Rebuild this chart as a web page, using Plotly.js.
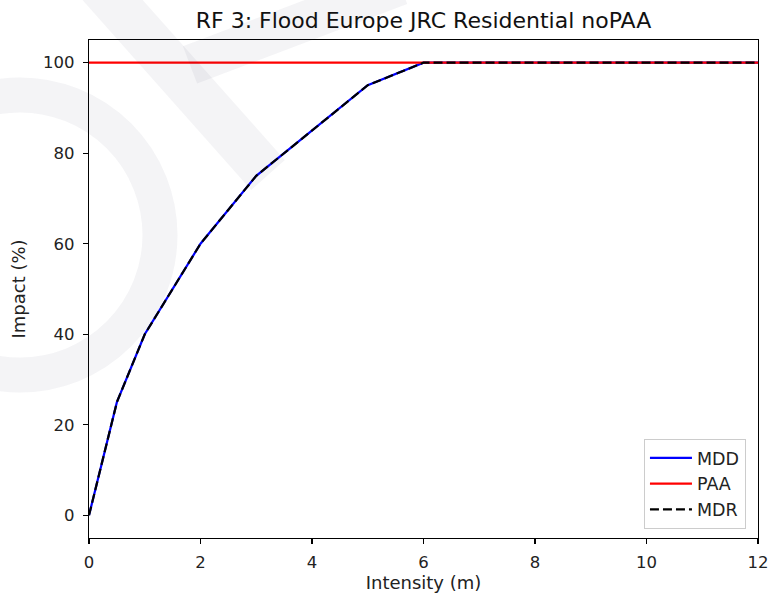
<!DOCTYPE html>
<html>
<head>
<meta charset="utf-8">
<script src="https://cdn.plot.ly/plotly-3.0.1.min.js"></script>
<style>html,body{margin:0;padding:0;background:#fff;}#chart{width:771px;height:596px;}</style>
</head>
<body>
<div id="chart"></div>
<script>
const intensity = [0, 0.5, 1, 1.5, 2, 3, 4, 5, 6, 12];
const mdd = [0, 25, 40, 50, 60, 75, 85, 95, 100, 100];
const paa = [100, 100, 100, 100, 100, 100, 100, 100, 100, 100];
const mdr = [0, 25, 40, 50, 60, 75, 85, 95, 100, 100];
const xTicks = [0, 2, 4, 6, 8, 10, 12];
const yTicks = [0, 20, 40, 60, 80, 100];

const traces = [
  {x: intensity, y: mdd, name: 'MDD', mode: 'lines', line: {color: '#0000ff', width: 2.2}},
  {x: intensity, y: paa, name: 'PAA', mode: 'lines', line: {color: '#ff0000', width: 2.2}},
  {x: intensity, y: mdr, name: 'MDR', mode: 'lines', line: {color: '#000000', width: 2.2, dash: '9px,4px'}}
];

const axisCommon = {
  showline: true, mirror: true, linecolor: '#000', linewidth: 1.2,
  ticks: 'outside', ticklen: 5, tickcolor: '#000', tickwidth: 1.2,
  showgrid: false, zeroline: false,
  tickfont: {family: 'DejaVu Sans', size: 16.5, color: '#222'}
};

const wm = 'rgba(30,40,80,0.05)';
const layout = {
  width: 771, height: 596,
  margin: {l: 89, r: 13, t: 40, b: 58},
  paper_bgcolor: '#fff', plot_bgcolor: 'rgba(0,0,0,0)',
  font: {family: 'DejaVu Sans', color: '#222'},
  title: {text: 'RF 3: Flood Europe JRC Residential noPAA', font: {family: 'DejaVu Sans', size: 22, color: '#111'}, x: 0.5, xref: 'paper', y: 0.966, yanchor: 'middle'},
  xaxis: Object.assign({}, axisCommon, {range: [0, 12], tickvals: xTicks, ticklabelstandoff: 4, title: {text: 'Intensity (m)', font: {family: 'DejaVu Sans', size: 18, color: '#222'}, standoff: 4}}),
  yaxis: Object.assign({}, axisCommon, {range: [-5, 105], tickvals: yTicks, ticklabelstandoff: 5, title: {text: 'Impact (%)', font: {family: 'DejaVu Sans', size: 18, color: '#222'}, standoff: 12}}),
  legend: {x: 0.982, y: 0.018, xanchor: 'right', yanchor: 'bottom', bgcolor: 'rgba(255,255,255,0.85)', bordercolor: '#cccccc', borderwidth: 1, itemwidth: 42, font: {family: 'DejaVu Sans', size: 17.5, color: '#222'}, tracegroupgap: 0},
  showlegend: true,
  shapes: [
    {type: 'circle', xref: 'paper', yref: 'paper', layer: 'above', x0: -0.3124, x1: 0.1061, y0: 0.3273, y1: 0.8896, line: {color: wm, width: 35}},
    {type: 'line', xref: 'paper', yref: 'paper', layer: 'above', x0: 0.009, y0: 1.12, x1: 0.2676, y1: 0.729, line: {color: wm, width: 45}},
    {type: 'line', xref: 'paper', yref: 'paper', layer: 'above', x0: 0.151, y0: 0.95, x1: 0.465, y1: 1.11, line: {color: wm, width: 40}}
  ]
};

Plotly.newPlot('chart', traces, layout, {displayModeBar: false, staticPlot: true});
</script>
</body>
</html>
